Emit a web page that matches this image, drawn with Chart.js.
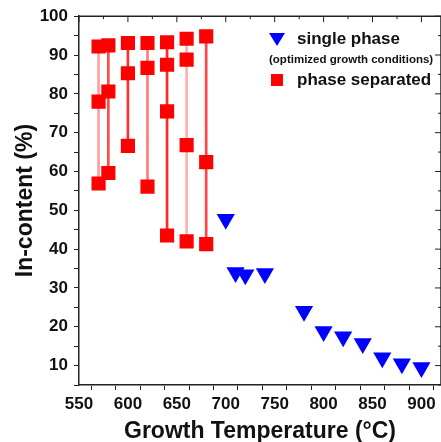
<!DOCTYPE html>
<html>
<head>
<meta charset="utf-8">
<script src="https://cdn.jsdelivr.net/npm/chart.js@4/dist/chart.umd.min.js"></script>
<style>
  html, body { margin: 0; padding: 0; background: #fff; overflow: hidden; }
  #wrap { width: 441px; height: 442px; }
</style>
</head>
<body>
<div id="wrap"><canvas id="tempChart" width="441" height="442"></canvas></div>
<script>
// phase separated samples: several In-contents found at one growth temperature
const sepTemps = [570, 580, 600, 620, 640, 660, 680];
const sepContents = [
  [56.9, 78.0, 92.2],
  [59.6, 80.6, 92.5],
  [66.6, 85.3, 93.1],
  [56.1, 86.7, 93.1],
  [43.5, 75.5, 87.5, 93.3],
  [42.0, 66.8, 88.8, 94.2],
  [41.3, 62.4, 94.8],
];

// single phase samples (optimized growth conditions)
const singleTemps = [700, 710, 720, 740, 780, 800, 820, 840, 860, 880, 900];
const singleContents = [47.7, 34.0, 33.4, 33.7, 24.0, 18.8, 17.4, 15.7, 12.0, 10.5, 9.5];

const xTickLabels = [550, 600, 650, 700, 750, 800, 850, 900];
const yTickLabels = [10, 20, 30, 40, 50, 60, 70, 80, 90, 100];

// colour of the connecting line at each temperature (some are paler in the original)
const rangeColors = ["#ff9e9e", "#ff4a4a", "#ff3030", "#ff7a7a", "#ff2a2a", "#ffb0b0", "#ff4545"];

const FONT = "'Liberation Sans', Arial, sans-serif";
Chart.defaults.font.family = FONT;
Chart.defaults.font.weight = "bold";
Chart.defaults.color = "#111";

const squarePoints = [];
sepTemps.forEach((t, i) => {
  sepContents[i].forEach((v) => squarePoints.push({ x: t, y: v }));
});

// top and right frame with inward ticks (the right side runs just past the canvas edge)
const framePlugin = {
  id: "frame",
  afterDraw(chart) {
    const { ctx, chartArea: a, scales } = chart;
    ctx.save();
    ctx.strokeStyle = "#222";
    ctx.lineWidth = 1.5;
    ctx.beginPath();
    ctx.moveTo(a.left, a.top);
    ctx.lineTo(a.right, a.top);
    ctx.lineTo(a.right, a.bottom);
    ctx.stroke();
    ctx.lineWidth = 1;
    ctx.beginPath();
    scales.x.ticks.forEach((t) => {
      const px = scales.x.getPixelForValue(t.value);
      const len = t.value % 50 === 0 ? 6 : 3;
      ctx.moveTo(px, a.top);
      ctx.lineTo(px, a.top + len);
    });
    scales.y.ticks.forEach((t) => {
      const py = scales.y.getPixelForValue(t.value);
      const len = t.value % 10 === 0 ? 6 : 3;
      ctx.moveTo(a.right, py);
      ctx.lineTo(a.right - len, py);
    });
    ctx.stroke();
    ctx.restore();
  },
};

// legend drawn inside the plot, top right
const legendPlugin = {
  id: "insideLegend",
  afterDraw(chart) {
    const { ctx } = chart;
    ctx.save();
    ctx.fillStyle = "#0000ff";
    ctx.beginPath();
    ctx.moveTo(269, 33);
    ctx.lineTo(285, 33);
    ctx.lineTo(277, 46);
    ctx.closePath();
    ctx.fill();
    ctx.fillStyle = "#ff0000";
    ctx.fillRect(271, 74, 12, 12);

    ctx.fillStyle = "#111";
    ctx.textBaseline = "alphabetic";
    ctx.textAlign = "left";
    ctx.font = "bold 17px " + FONT;
    ctx.fillText("single phase", 297, 44);
    ctx.fillText("phase separated", 297, 85);
    ctx.font = "bold 11.5px " + FONT;
    ctx.fillText("(optimized growth conditions)", 269, 63);
    ctx.restore();
  },
};

new Chart(document.getElementById("tempChart"), {
  type: "scatter",
  data: {
    datasets: [
      {
        type: "bar",
        label: "range",
        data: sepTemps.map((t, i) => ({
          x: t,
          y: [Math.min(...sepContents[i]), Math.max(...sepContents[i])],
        })),
        backgroundColor: rangeColors,
        barThickness: 2,
        borderWidth: 0,
        order: 3,
      },
      {
        label: "phase separated",
        data: squarePoints,
        pointStyle: "rect",
        pointRadius: 10,
        pointHoverRadius: 10,
        backgroundColor: "#ff0000",
        borderWidth: 0,
        order: 1,
      },
      {
        label: "single phase",
        data: singleTemps.map((t, i) => ({ x: t, y: singleContents[i] })),
        pointStyle: "triangle",
        rotation: 180,
        pointRadius: 10.5,
        pointHoverRadius: 10.5,
        backgroundColor: "#0000ff",
        borderWidth: 0,
        order: 2,
      },
    ],
  },
  options: {
    responsive: false,
    animation: false,
    layout: { autoPadding: false, padding: { top: 16, right: -2, left: 0, bottom: 0 } },
    plugins: {
      legend: { display: false },
      tooltip: { enabled: false },
    },
    scales: {
      x: {
        type: "linear",
        min: 550,
        max: 920,
        offset: false,
        afterFit: (s) => { s.height = 57; s.paddingRight = 0; },
        afterBuildTicks: (s) => { s.ticks = s.ticks.filter((t) => t.value % 25 === 0); },
        ticks: {
          stepSize: 25,
          includeBounds: false,
          autoSkip: false,
          maxRotation: 0,
          padding: 4,
          font: { size: 17, weight: "bold" },
          callback: (v) => (xTickLabels.includes(v) ? String(v) : ""),
        },
        grid: { drawOnChartArea: false, tickLength: 5, color: "#222" },
        border: { color: "#222", width: 1.5 },
        title: {
          display: true,
          text: "Growth Temperature (°C)",
          font: { size: 23, weight: "bold" },
          padding: { top: 0, bottom: -3 },
        },
      },
      y: {
        min: 5,
        max: 100,
        afterFit: (s) => { s.width = 79; },
        afterBuildTicks: (s) => { s.ticks = s.ticks.filter((t) => t.value % 5 === 0); },
        ticks: {
          stepSize: 5,
          includeBounds: false,
          autoSkip: false,
          padding: 6,
          font: { size: 17, weight: "bold" },
          callback: (v) => (yTickLabels.includes(v) ? String(v) : ""),
        },
        grid: { drawOnChartArea: false, tickLength: 5, color: "#222" },
        border: { color: "#222", width: 1.5 },
        title: {
          display: true,
          text: "In-content (%)",
          font: { size: 23, weight: "bold" },
          padding: { top: 12, bottom: 0 },
        },
      },
    },
  },
  plugins: [framePlugin, legendPlugin],
});
</script>
</body>
</html>
